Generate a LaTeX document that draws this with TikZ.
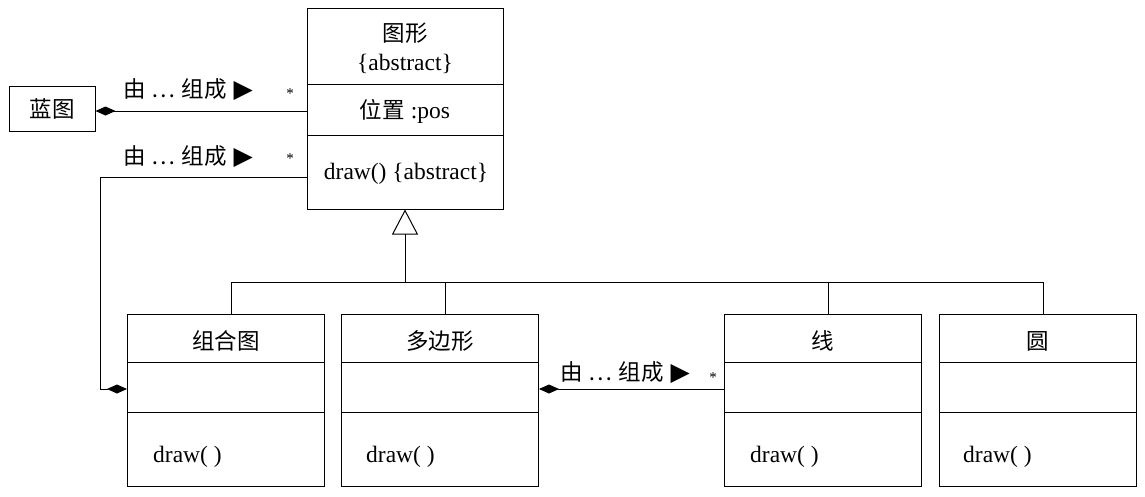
\documentclass[tikz,border=0pt]{standalone}
\usepackage{fontspec}
\setmainfont{Liberation Serif}
\newfontfamily\cjk{Noto Sans CJK SC}
\newfontfamily\symf{DejaVu Sans}
\usetikzlibrary{arrows.meta}
\tikzset{
  box/.style={draw, line width=1pt, inner sep=0pt, minimum width=197pt},
  cls/.style={box, minimum height=172pt},
  ln/.style={line width=1pt},
  cn/.style={inner sep=0pt, font=\cjk\fontsize{22.5}{26}\selectfont},
  lt/.style={inner sep=0pt, font=\fontsize{23.5}{27}\selectfont},
  lbl/.style={inner sep=0pt, anchor=west, font=\cjk\fontsize{22.5}{26}\selectfont},
  star/.style={inner sep=0pt, font=\fontsize{15}{17}\selectfont},
  comp/.style={ln},
  dia/.tip={Diamond[length=20pt,width=9pt]},
}
\newcommand{\madeof}{由\hspace{6pt}…\hspace{6pt}组成\hspace{7pt}{\symf\fontsize{25}{26}\selectfont ▶}}
\begin{document}
\begin{tikzpicture}[x=1pt,y=-1pt]
\useasboundingbox (0,0) rectangle (1145,496);
% abstract class
\node[box, minimum width=196pt, minimum height=201pt] (tx) at (405,108.5) {};
\draw[ln] (tx.west|-0,84) -- (tx.east|-0,84);
\draw[ln] (tx.west|-0,135) -- (tx.east|-0,135);
\node[cn] (txn) at (405,33) {图形};
\node[lt] (txa) at (405,64) {\{abstract\}};
\node[lt] (txp) at (405,111) {{\cjk\fontsize{22.5}{26}\selectfont 位置} :pos};
\node[lt] (txd) at (406,174) {draw() \{abstract\}};
% blueprint
\node[box, minimum width=86pt, minimum height=45pt, cn] (bp) at (52,108.5) {蓝图};
% bottom classes
\node[cls] (zh) at (226,400.5) {};
\node[cls] (dbx) at (440,400.5) {};
\node[cls] (xian) at (823,400.5) {};
\node[cls] (yuan) at (1038,400.5) {};
\foreach \c in {zh,dbx,xian,yuan}{
  \draw[ln] (\c.west|-0,362) -- (\c.east|-0,362);
  \draw[ln] (\c.west|-0,412) -- (\c.east|-0,412);
}
\node[cn] (zhn) at (226,341) {组合图};
\node[cn] (dbxn) at (440,341) {多边形};
\node[cn] (xiann) at (823,341) {线};
\node[cn] (yuann) at (1038,341) {圆};
\node[lt, anchor=west] (zhd) at (153,457) {draw( )};
\node[lt, anchor=west] (dbxd) at (366,457) {draw( )};
\node[lt, anchor=west] (xiand) at (750,457) {draw( )};
\node[lt, anchor=west] (yuand) at (963,457) {draw( )};
% inheritance
\coordinate (hub) at (405,282);
\draw[ln, -{Triangle[open, length=25pt, width=26pt]}] (hub) -- (tx.south);
\draw[ln] ([xshift=5pt]zh.north) |- (hub);
\draw[ln] ([xshift=5pt]dbx.north) |- (hub);
\draw[ln] ([xshift=5pt]yuan.north) |- (hub);
\draw[ln] ([xshift=5pt]xian.north) |- (hub);
% compositions
\coordinate (c1) at (tx.west|-0,111);
\draw[comp, dia-] (bp.east|-c1) -- (c1);
\node[lbl] (l1) at (123,90) {\madeof};
\node[star] (s1) at (290,94) {*};
\coordinate (c2) at (tx.west|-0,177);
\coordinate (b2) at (100,177);
\draw[comp, -dia] (c2) -- (b2) |- (zh.west|-0,389);
\node[lbl] (l2) at (123,157) {\madeof};
\node[star] (s2) at (290,159) {*};
\coordinate (c3) at (xian.west|-0,389);
\draw[comp, dia-] (dbx.east|-c3) -- (c3);
\node[lbl] (l3) at (560,373) {\madeof};
\node[star] (s3) at (713,378) {*};
\end{tikzpicture}
\end{document}
